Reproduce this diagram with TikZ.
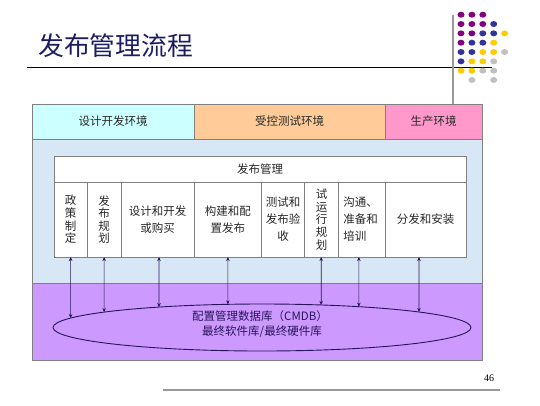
\documentclass[tikz,border=0pt]{standalone}
\usepackage{fontspec}
\newfontfamily\cjk{Noto Sans CJK SC}
\newfontfamily\numfont{Liberation Serif}
\usepackage{xcolor}
\definecolor{TitleNavy}{RGB}{28,28,100}
\definecolor{EnvCyan}{RGB}{204,255,255}
\definecolor{EnvOrange}{RGB}{255,204,153}
\definecolor{EnvPink}{RGB}{255,153,204}
\definecolor{AreaBlue}{RGB}{216,231,245}
\definecolor{AreaPurple}{RGB}{204,153,255}
\definecolor{RimNavy}{RGB}{40,20,90}
\definecolor{CellText}{RGB}{40,40,40}
\definecolor{DotPurple}{RGB}{128,0,128}
\definecolor{DotBlue}{RGB}{51,51,153}
\definecolor{DotYellow}{RGB}{255,204,0}
\definecolor{DotGray}{RGB}{192,192,192}
\usetikzlibrary{positioning}
\usetikzlibrary{calc}
\usetikzlibrary{shapes.geometric}
\usetikzlibrary{intersections}
\usetikzlibrary{arrows.meta}

\begin{document}
\begin{tikzpicture}[x=1pt, y=-1pt
      , env/.style={draw=gray, line width=0.8pt, outer sep=0pt, inner sep=0pt, minimum height=35pt,
                    text=CellText, font=\cjk\fontsize{11.5}{13}\selectfont}
      , area/.style={draw=gray, line width=0.8pt, outer sep=0pt, inner sep=0pt, minimum width=450pt}
      , cell/.style={draw=gray, fill=white, line width=0.8pt, outer sep=0pt, inner sep=0pt, minimum height=75pt,
                     align=center, text=CellText, font=\cjk\fontsize{11.5}{17}\selectfont}
      , cell-vert/.style={cell, font=\cjk\fontsize{11.5}{12.6}\selectfont}
      , link/.style={<->, draw=RimNavy, line width=0.6pt}
      ]

      \tikzset{>={Stealth[length=4pt, width=3.5pt]}}
      \useasboundingbox (0,0) rectangle (540,405);

      % title and rules
      \node[anchor=west, inner sep=0pt, text=TitleNavy, font=\cjk\fontsize{25.8}{26}\selectfont] (title) at (38,46) {发布管理流程};
      \coordinate (rule-l) at (27,67);
      \coordinate (rule-r) at (492,67);
      \draw[line width=0.8pt] (rule-l) -- (rule-r);
      \coordinate (post-top) at (453,15);
      \coordinate (post-bottom) at (453,104);
      \draw[color=gray!80, line width=1.3pt] (post-top) -- (post-bottom);

      % dots
      \foreach \row/\dotrow in {0/{DotPurple,DotPurple,DotPurple},
                                1/{DotPurple,DotPurple,DotPurple,DotBlue},
                                2/{DotPurple,DotPurple,DotBlue,DotBlue,DotYellow},
                                3/{DotPurple,DotBlue,DotBlue,DotYellow},
                                4/{DotBlue,DotBlue,DotYellow,DotYellow,DotGray},
                                5/{DotBlue,DotYellow,DotYellow,DotGray},
                                6/{DotYellow,DotYellow,DotGray,DotGray}}{
        \foreach \c [count=\i from 0] in \dotrow
          \fill[\c] ({461+10.9*\i},{14.7+9.33*\row}) ellipse (3.5pt and 3pt);
      }
      \foreach \i in {1,3}
        \fill[DotGray] ({461+10.9*\i},80) ellipse (3.5pt and 3pt);

      % environments
      \node[env, fill=EnvCyan, minimum width=162pt, anchor=north west] (env-dev) at (32,104) {设计开发环境};
      \node[env, fill=EnvOrange, minimum width=191pt, right=0pt of env-dev] (env-test) {受控测试环境};
      \node[env, fill=EnvPink, minimum width=97pt, right=0pt of env-test] (env-prod) {生产环境};

      \node[area, fill=AreaBlue, minimum height=144pt, anchor=north west] (area-test) at (env-dev.south west) {};
      \node[area, fill=AreaPurple, minimum height=77pt, below=0pt of area-test] (area-cmdb) {};

      % release management box
      \node[cell, minimum width=412pt, minimum height=26pt, anchor=north west] (rel-mgmt) at (54,156) {发布管理};
      \node[cell-vert, minimum width=33.3pt, anchor=north west] (c1) at (rel-mgmt.south west) {政\\策\\制\\定};
      \node[cell-vert, minimum width=33.7pt, right=0pt of c1] (c2) {发\\布\\规\\划};
      \node[cell, minimum width=73pt, right=0pt of c2] (c3) {设计和开发\\或购买};
      \node[cell, minimum width=67.7pt, right=0pt of c3] (c4) {构建和配\\置发布};
      \node[cell, minimum width=43pt, right=0pt of c4] (c5) {测试和\\发布验\\收};
      \node[cell-vert, minimum width=34pt, right=0pt of c5] (c6) {试\\运\\行\\规\\划};
      \node[cell, minimum width=46.3pt, align=left, text width=37pt, right=0pt of c6] (c7) {沟通、\\准备和\\培训};
      \node[cell, minimum width=81pt, right=0pt of c7] (c8) {分发和安装};

      % CMDB
      \node[ellipse, draw=RimNavy, line width=0.9pt, minimum width=418pt, minimum height=47pt,
            inner sep=0pt, outer sep=0pt] (cmdb) at (262,327.5) {};
      \node[align=center, text=RimNavy, font=\cjk\fontsize{11.5}{15}\selectfont] (cmdb-label)
            at ([xshift=-2pt, yshift=3pt]cmdb.center) {配置管理数据库（CMDB）\\\hspace{4pt}最终软件库/最终硬件库};
      \path[name path=cmdb-rim] (cmdb.center) ellipse (209pt and 23.5pt);

      \foreach \cell/\dx in {c1/0,c2/0,c3/1.5,c4/0,c6/-0.5,c7/-3,c8/-6.5}{
        \path[name path=drop] ([xshift=\dx pt]\cell.south) -- ++(0,80);
        \draw[link, name intersections={of=drop and cmdb-rim, by=hit}] ([xshift=\dx pt]\cell.south) -- (hit);
      }

      % footer
      \coordinate (foot-l) at (163,390);
      \coordinate (foot-r) at (500,390);
      \draw[color=gray!80, line width=1.3pt] (foot-l) -- (foot-r);
      \node[font=\numfont\fontsize{10}{10}\selectfont] (page-no) at (489,378) {46};
    \end{tikzpicture}
\end{document}
